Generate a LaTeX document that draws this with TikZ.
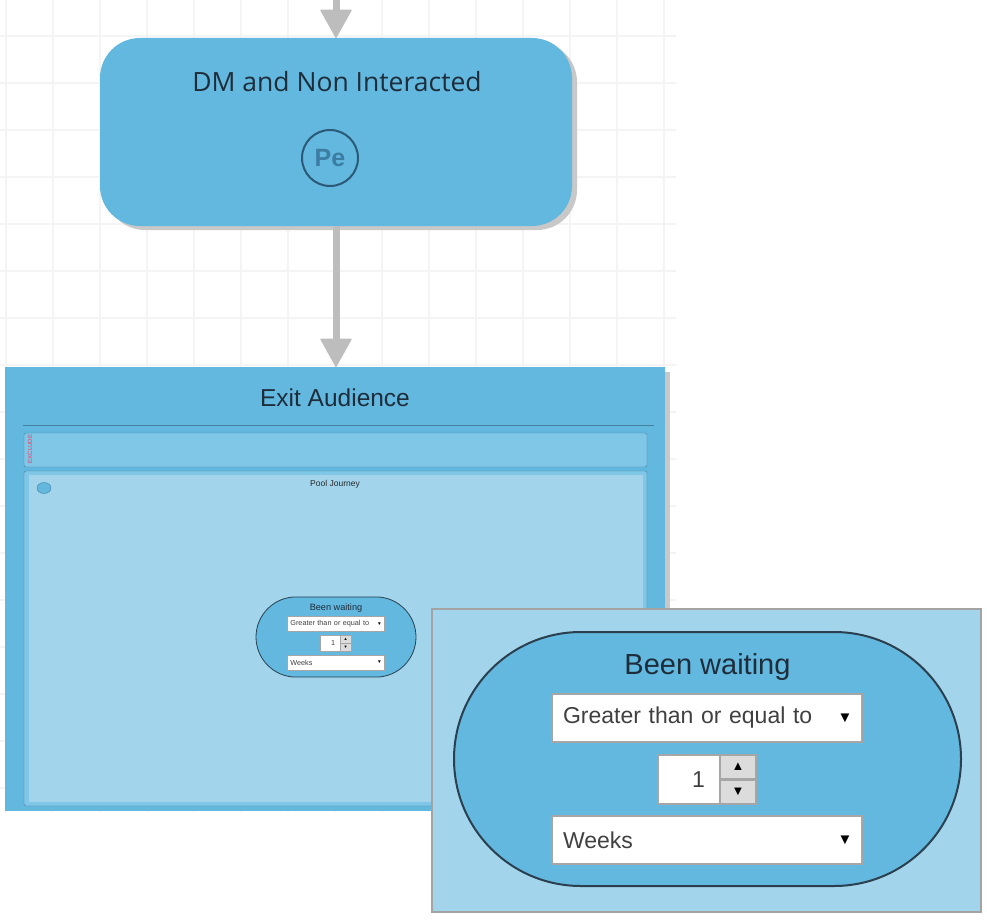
\documentclass[tikz,border=0pt]{standalone}
\usepackage{fontspec}
\setmainfont{Liberation Sans}
\newfontfamily\opensans{Open Sans}
\usepackage{tikz}
\usetikzlibrary{arrows.meta, positioning, shapes.geometric, shapes.misc, shadows}

\definecolor{gridgray}{HTML}{F4F4F4}
\definecolor{nodeblue}{HTML}{62B8DF}
\definecolor{shadowgray}{HTML}{C8C8C8}
\definecolor{arrowgray}{HTML}{BDBDBD}
\definecolor{textdark}{HTML}{1F2D3A}
\definecolor{pering}{HTML}{2C5A76}
\definecolor{petext}{HTML}{3D7DA3}
\definecolor{paneblue}{HTML}{80C6E6}
\definecolor{paneedge}{HTML}{45809F}
\definecolor{poolblue}{HTML}{A2D5EC}
\definecolor{excludered}{HTML}{FF3358}
\definecolor{insetgray}{HTML}{A3A3A3}
\definecolor{ovaledge}{HTML}{2B3F4E}
\definecolor{boxgray}{HTML}{A6A6A6}
\definecolor{btngray}{HTML}{DCDCDC}

% one "Been waiting" condition, drawn around (0,0)
\newcommand{\waitwidget}{%
    \node (stadium) [rounded rectangle, draw=ovaledge, widgetline, fill=nodeblue, minimum width=507pt, minimum height=254pt, inner sep=0pt] at (0,0) {};
    \node (title) [font=\fontsize{29}{34}\selectfont, text=textdark] at (0,92) {Been waiting};
    \node (cmp) [dropbox] at (-0.5,41) {Greater than or equal to};
    \node (cmparrow) [droparrow] at (137.5,41) {▼};
    \node (num) [dropbox, inner xsep=15pt, text width=32pt, align=right, minimum height=49pt] at (-18.5,-20.5) {1};
    \node (up) [spinbtn] at (30.5,-8) {▲};
    \node (down) [spinbtn] at (30.5,-33) {▼};
    \node (unit) [dropbox] at (-0.5,-81) {Weeks};
    \node (unitarrow) [droparrow] at (137.5,-81) {▼};
}

\begin{document}
\begin{tikzpicture}[x=1pt, y=1pt,
        gridline/.style={draw=gridgray, line width=1.6pt},
        flowarrow/.style={draw=arrowgray, line width=7pt, -{Triangle[width=32pt, length=29pt, line width=1.5pt, round]}},
        widgetline/.style={line width=2pt},
        dropbox/.style={draw=boxgray, widgetline, fill=white, minimum height=48pt, inner xsep=11pt, inner ysep=0pt, text width=288pt, align=left, text=black!75, font=\fontsize{23}{27}\selectfont},
        droparrow/.style={inner sep=0pt, font=\fontsize{15}{16}\selectfont},
        spinbtn/.style={draw=boxgray, widgetline, fill=btngray, minimum width=36pt, minimum height=24pt, inner sep=0pt, font=\fontsize{13}{14}\selectfont}]
        % Page and grid
        \useasboundingbox[fill=white] (0,-920) rectangle (987,0);
        \foreach \gx in {6,53,...,670} \draw[gridline] (\gx,0) -- (\gx,-812);
        \foreach \gy in {36,83,...,812} \draw[gridline] (0,-\gy) -- (676,-\gy);

        % DM node
        \node (dmnode) [fill=nodeblue, rounded corners=40pt, minimum width=472pt, minimum height=188pt, drop shadow={shadow xshift=5pt, shadow yshift=-4pt, fill=shadowgray, opacity=1}] at (336,-132) {};
        \node (dmtitle) [font=\opensans\fontsize{26.5}{30}\selectfont, text=textdark] at (337,-82) {DM and Non Interacted};
        \node (pe) [circle, draw=pering, line width=2pt, minimum size=56pt, inner sep=0pt, text=petext, font=\bfseries\fontsize{25}{28}\selectfont] at (330,-158) {Pe};

        % Exit Audience
        \fill[shadowgray] (665,-372) rectangle (670,-811);
        \node (exitbox) [fill=nodeblue, minimum width=660pt, minimum height=444pt, inner sep=0pt] at (335,-589) {};
        \node (exittitle) [font=\fontsize{24.5}{28}\selectfont, text=textdark] at (335,-398) {Exit Audience};
        \draw[paneedge, line width=1pt] (23,-425) -- (654,-425);
        \node (exclude) [draw=paneedge, fill=paneblue, rounded corners=2pt, minimum width=623pt, minimum height=34pt, inner sep=0pt] at (335.5,-450) {};
        \node (excludetag) [rotate=90, text=excludered, font=\fontsize{6}{7}\selectfont, inner sep=0pt] at (30,-449) {EXCLUDE};
        \node (pool) [draw=paneedge, fill=paneblue, rounded corners=2pt, minimum width=623pt, minimum height=335pt, inner sep=0pt] at (335.5,-638.5) {};
        \node (poolinner) [fill=poolblue, minimum width=614pt, minimum height=327pt, inner sep=0pt] at (336,-638.5) {};
        \node (pooltitle) [font=\fontsize{8.5}{10}\selectfont, text=black!85] at (335,-484) {Pool Journey};
        \node (pooldot) [ellipse, draw=paneedge, fill=nodeblue, minimum width=14pt, minimum height=11pt, inner sep=0pt] at (44,-488) {};

        % Arrows
        \coordinate (entry) at (336,0);
        \draw[flowarrow] (entry) -- (dmnode.north);
        \draw[flowarrow] (dmnode.south) -- (dmnode.south |- exitbox.north);

        % Condition, small and enlarged
        \begin{scope}[shift={(336,-637)}, scale=0.3156, transform shape, name prefix=small-, widgetline/.style={line width=0.8pt}]
            \waitwidget
        \end{scope}
        \node (inset) [draw=insetgray, line width=2pt, fill=poolblue, minimum width=549pt, minimum height=303pt, inner sep=0pt] at (706.5,-760.5) {};
        \begin{scope}[shift={(707.5,-759)}, name prefix=big-]
            \waitwidget
        \end{scope}
    \end{tikzpicture}
\end{document}
